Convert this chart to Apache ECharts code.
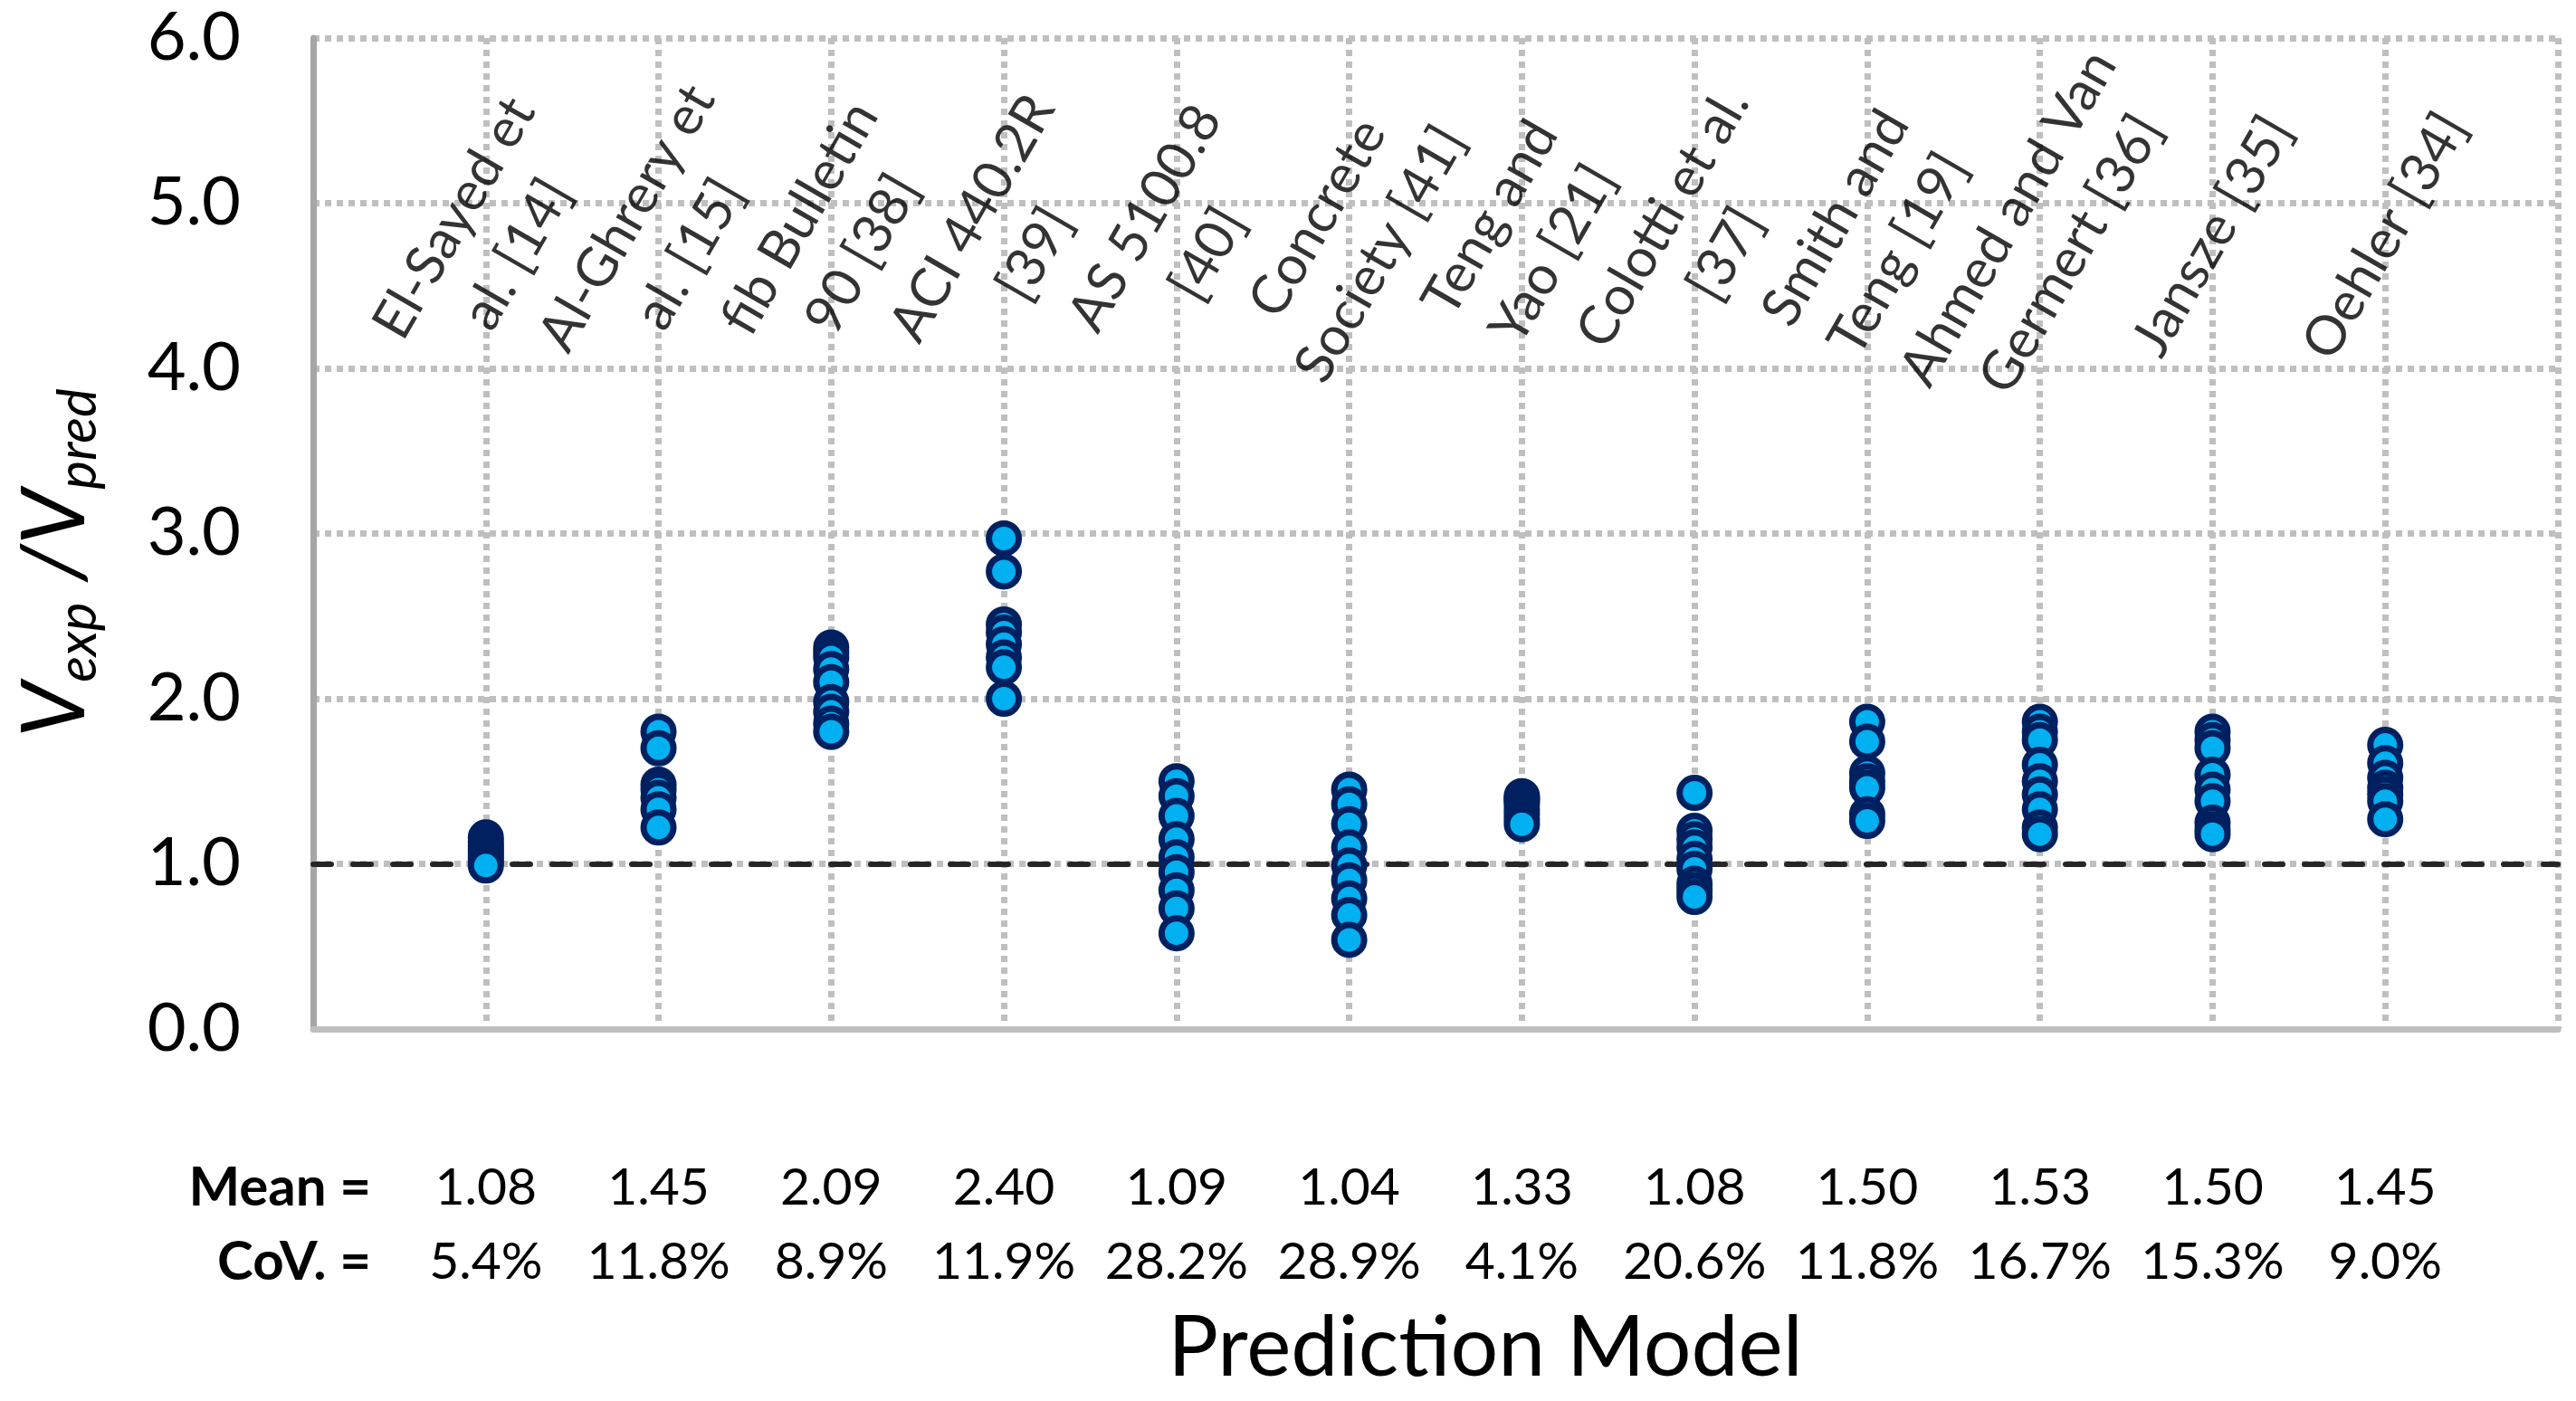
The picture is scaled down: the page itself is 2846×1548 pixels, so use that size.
<!DOCTYPE html>
<html><head><meta charset="utf-8">
<script src="https://cdn.jsdelivr.net/npm/echarts@6/dist/echarts.min.js"></script>
<style>html,body{margin:0;padding:0;background:#fff}#c{width:2846px;height:1548px}</style>
</head><body><div id="c"></div>
<script>
// Category (model) names, as wrapped in the reference
const models = [
  'El-Sayed et\nal. [14]', 'Al-Ghrery et\nal. [15]', 'fib Bulletin\n90 [38]', 'ACI 440.2R\n[39]',
  'AS 5100.8\n[40]', 'Concrete\nSociety [41]', 'Teng and\nYao [21]', 'Colotti et al.\n[37]',
  'Smith and\nTeng [19]', 'Ahmed and Van\nGermert [36]', 'Jansze [35]', 'Oehler [34]'
];
const means = ['1.08','1.45','2.09','2.40','1.09','1.04','1.33','1.08','1.50','1.53','1.50','1.45'];
const covs  = ['5.4%','11.8%','8.9%','11.9%','28.2%','28.9%','4.1%','20.6%','11.8%','16.7%','15.3%','9.0%'];

// Vexp/Vpred values per model
const elSayed   = [1.16, 1.13, 1.11, 1.09, 1.07, 1.05, 1.03, 1.01, 0.99];
const alGhrery  = [1.80, 1.70, 1.48, 1.45, 1.40, 1.33, 1.22];
const fib90     = [2.31, 2.28, 2.25, 2.18, 2.10, 1.98, 1.92, 1.85, 1.80];
const aci440    = [2.97, 2.77, 2.45, 2.40, 2.33, 2.25, 2.19, 2.00];
const as5100    = [1.50, 1.41, 1.29, 1.15, 1.04, 0.95, 0.84, 0.73, 0.58];
const concrete  = [1.45, 1.36, 1.24, 1.10, 0.99, 0.90, 0.79, 0.69, 0.54];
const tengYao   = [1.41, 1.40, 1.39, 1.38, 1.36, 1.33, 1.30, 1.27, 1.24];
const colotti   = [1.43, 1.20, 1.15, 1.10, 1.03, 0.97, 0.88, 0.84, 0.80];
const smithTeng = [1.86, 1.74, 1.55, 1.50, 1.46, 1.30, 1.26];
const ahmedVan  = [1.86, 1.80, 1.75, 1.60, 1.50, 1.42, 1.33, 1.22, 1.18];
const jansze    = [1.80, 1.75, 1.70, 1.54, 1.45, 1.38, 1.25, 1.21, 1.18];
const oehler    = [1.72, 1.61, 1.52, 1.46, 1.42, 1.38, 1.27];

const groups = [elSayed, alGhrery, fib90, aci440, as5100, concrete, tengYao, colotti, smithTeng, ahmedVan, jansze, oehler];
const labelLevel = 4.8; // y level around which model names are centred
const refLine = 1.0;

const points = [];
groups.forEach((g, i) => g.forEach(v => points.push([i + 1, v])));
const nameData = models.map((m, i) => [i + 1, labelLevel]);

const FONT = 'Lato';
const chart = echarts.init(document.getElementById('c'));
chart.setOption({
  animation: false,
  backgroundColor: '#fff',
  grid: { left: 346, right: 20, top: 42, bottom: 411, containLabel: false },
  xAxis: {
    type: 'value', min: 0, max: 13, interval: 1,
    axisLine: { show: true, onZero: false, lineStyle: { color: '#bfbfbf', width: 7 } },
    axisTick: { show: false },
    splitLine: { show: true, lineStyle: { color: '#bfbfbf', width: 7, type: [7, 6] } },
    axisLabel: {
      show: true, margin: 135, fontFamily: FONT, fontSize: 57, color: '#000', lineHeight: 82,
      formatter: v => (v >= 1 && v <= 12) ? means[v - 1] + '\n' + covs[v - 1] : ''
    }
  },
  yAxis: {
    type: 'value', min: 0, max: 6, interval: 1,
    axisLine: { show: true, lineStyle: { color: '#a6a6a6', width: 7 } },
    axisTick: { show: false },
    splitLine: { show: true, lineStyle: { color: '#bfbfbf', width: 7, type: [7, 6] } },
    axisLabel: { margin: 80, fontFamily: FONT, fontSize: 74, color: '#000', formatter: v => v.toFixed(1) }
  },
  series: [
    {
      type: 'scatter', name: 'names', data: nameData, symbolSize: 0, silent: true, z: 3,
      label: {
        show: true, position: 'inside', rotate: 60, formatter: p => models[p.dataIndex],
        fontFamily: FONT, fontSize: 60, lineHeight: 80, color: '#000', align: 'center', verticalAlign: 'middle'
      }
    },
    {
      type: 'scatter', name: 'ratio', data: points, symbol: 'circle', symbolSize: 33, z: 5,
      itemStyle: { color: '#00b0f0', borderColor: '#002060', borderWidth: 7, opacity: 1 },
      emphasis: { disabled: true },
      markLine: {
        silent: true, symbol: 'none', label: { show: false }, z: 4,
        lineStyle: { color: '#262626', width: 6, type: [20, 24], cap: 'round' },
        data: [{ yAxis: refLine }]
      }
    }
  ],
  graphic: [
    { type: 'text', x: 410, y: 1313, style: { text: 'Mean =', fontFamily: FONT, fontSize: 60, fontWeight: 'bold', fill: '#000', align: 'right', verticalAlign: 'middle' } },
    { type: 'text', x: 410, y: 1395, style: { text: 'CoV. =', fontFamily: FONT, fontSize: 60, fontWeight: 'bold', fill: '#000', align: 'right', verticalAlign: 'middle' } },
    { type: 'text', x: 1641, y: 1490, style: { text: 'Prediction Model', fontFamily: FONT, fontSize: 93, fill: '#000', align: 'center', verticalAlign: 'middle' } },
    { type: 'text', x: 62, y: 622, rotation: Math.PI / 2,
      style: {
        text: '{v|V}{s|exp}{v| /V}{s|pred}', align: 'center', verticalAlign: 'middle', fill: '#000',
        rich: {
          v: { fontFamily: FONT, fontSize: 97, fontStyle: 'italic', lineHeight: 110, fill: '#000' },
          s: { fontFamily: FONT, fontSize: 60, fontStyle: 'italic', lineHeight: 38, verticalAlign: 'bottom', fill: '#000' }
        }
      } }
  ]
});
</script></body></html>
